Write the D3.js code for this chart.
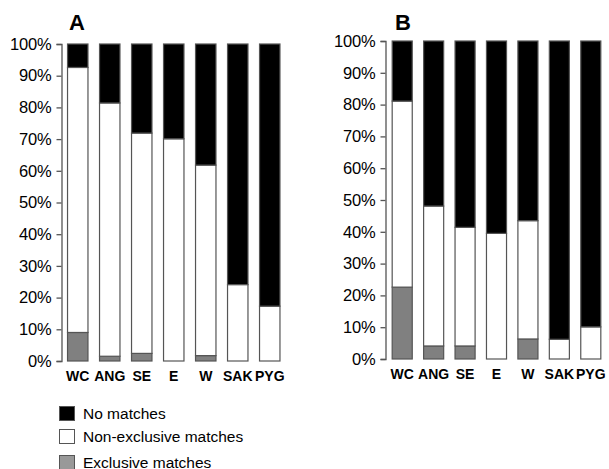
<!DOCTYPE html>
<html><head><meta charset="utf-8">
<script src="https://cdn.jsdelivr.net/npm/d3@7"></script>
<style>body{margin:0;background:#fff}svg{display:block}</style>
</head><body>
<svg id="c" width="609" height="469"></svg>
<script>
const categories = ["WC","ANG","SE","E","W","SAK","PYG"];
// Panel A (percent)
const exclusiveA = [9.0, 1.5, 2.4, 0, 1.7, 0, 0];
const nonExclusiveA = [83.6, 79.9, 69.5, 70.1, 60.1, 24.1, 17.3];
// Panel B (percent)
const exclusiveB = [22.6, 4.1, 4.1, 0, 6.3, 0, 0];
const nonExclusiveB = [58.5, 44.0, 37.3, 39.5, 37.2, 6.2, 10.1];
const yTicks = [0,10,20,30,40,50,60,70,80,90,100];
const seriesNames = ["No matches","Non-exclusive matches","Exclusive matches"];
const colors = {"Exclusive matches":"#808080","Non-exclusive matches":"#ffffff","No matches":"#000000"};

const svg = d3.select("#c");
const font = "Arial, 'Liberation Sans', sans-serif";

function panel(label, excl, nonEx, ax) {
  const g = svg.append("g");
  const y = d3.scaleLinear().domain([0,100]).range([ax.y0, ax.y1]);
  const x = d3.scaleBand().domain(categories).range([ax.x0, ax.x1]).paddingInner(0.33).paddingOuter(0.165);
  const rows = categories.map((c,i)=>({cat:c, "Exclusive matches":excl[i], "Non-exclusive matches":nonEx[i], "No matches":100-excl[i]-nonEx[i]}));
  const stack = d3.stack().keys(["Exclusive matches","Non-exclusive matches","No matches"])(rows);
  stack.forEach(layer=>{
    g.selectAll(null).data(layer.filter(d=>d[1]-d[0]>0)).enter().append("rect")
      .attr("x", d=>x(d.data.cat)+0.5)
      .attr("width", x.bandwidth()-1)
      .attr("y", d=>y(d[1]))
      .attr("height", d=>y(d[0])-y(d[1]))
      .attr("fill", colors[layer.key])
      .attr("stroke", "#555").attr("stroke-width", 1.2);
  });
  const axis = d3.axisLeft(y).tickValues(yTicks).tickFormat(d=>d+"%").tickSize(5).tickPadding(5);
  const ag = g.append("g").attr("transform", `translate(${ax.axisX},0)`).call(axis);
  ag.select(".domain").attr("stroke","#555").attr("stroke-width",1.3);
  ag.selectAll(".tick line").attr("stroke","#555").attr("stroke-width",1.3);
  ag.selectAll(".tick text").attr("font-family",font).attr("font-size",16.5).attr("letter-spacing","-0.2px").attr("fill","#000");
  g.selectAll(null).data(categories).enter().append("text")
    .attr("x", d=>x(d)+x.bandwidth()/2).attr("y", ax.y0+20)
    .attr("text-anchor","middle").attr("font-family",font).attr("font-weight","bold")
    .attr("font-size",14).text(d=>d);
  g.append("text").attr("x", ax.labelX).attr("y", 30).attr("font-family",font)
    .attr("font-weight","bold").attr("font-size",22).text(label);
}

panel("A", exclusiveA, nonExclusiveA, {x0:61.75, x1:285.75, y0:361, y1:44, axisX:61.5, labelX:69});
panel("B", exclusiveB, nonExclusiveB, {x0:386.5, x1:606.5, y0:359, y1:41, axisX:385.5, labelX:395});

const leg = svg.append("g");
const legY = [406, 429, 455];
seriesNames.forEach((s,i)=>{
  leg.append("rect").attr("x",59.5).attr("y",legY[i]+0.5).attr("width",15).attr("height",14)
    .attr("fill", s==="Exclusive matches" ? "#999999" : colors[s]).attr("stroke","#555").attr("stroke-width",1);
  leg.append("text").attr("x",83).attr("y",legY[i]+12.5).attr("font-family",font)
    .attr("font-size",15.5).attr("fill","#000").text(s);
});
</script>
</body></html>
